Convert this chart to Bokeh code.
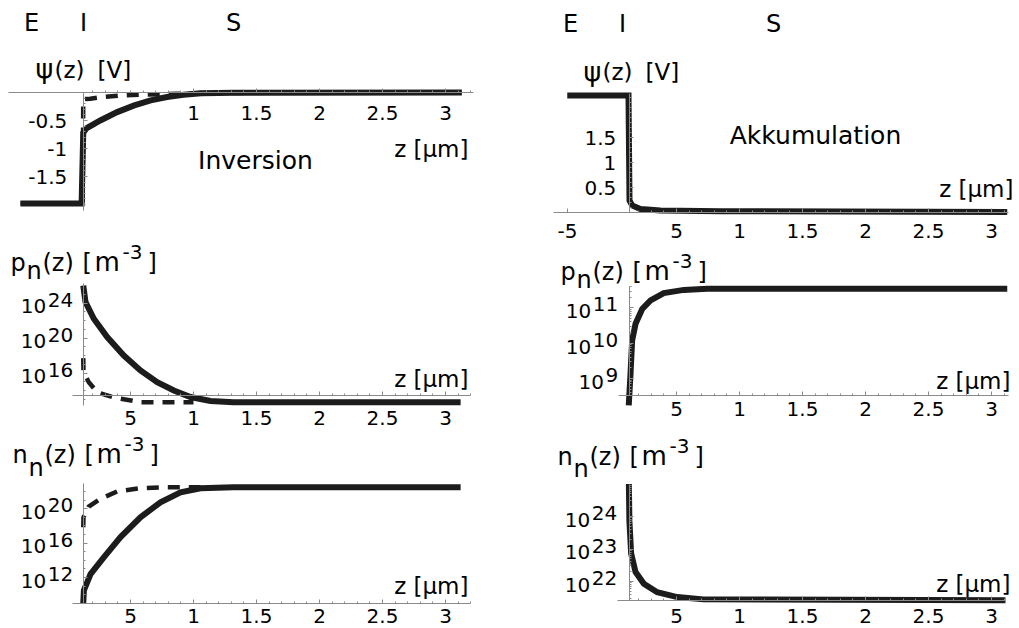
import numpy as np
from bokeh.plotting import figure
from bokeh.models import LinearAxis, FixedTicker, Range1d
from bokeh.layouts import row, column
from bokeh.core.properties import value
from bokeh.embed import file_html
from bokeh.resources import INLINE

FONT = "DejaVu Sans"
INK = "#1c1c1c"
AXC = "#8a8a8a"

# ---------------- data (z in the units of the printed z axis) ----------------
Z_I = 0.125  # interface insulator / semiconductor

# Inversion: potential psi(z) [V]
inv_psi_z = [-0.373, 0.112, 0.125, 0.15, 0.26, 0.394, 0.53, 0.66, 0.79, 0.92, 1.06, 1.32, 3.13]
inv_psi = [-1.98, -1.98, -0.72, -0.64, -0.50, -0.35, -0.23, -0.14, -0.08, -0.04, -0.015, -0.005, 0.0]
inv_psi_d_z = [-0.373, 0.12, 0.125, 0.18, 0.275, 0.41, 0.59, 0.86, 1.1, 3.13]
inv_psi_d = [-1.98, -1.98, -0.12, -0.11, -0.083, -0.054, -0.036, -0.024, -0.008, 0.0]

# Inversion: log10 of hole density p_n [m^-3]
inv_p_z = [0.125, 0.143, 0.209, 0.315, 0.447, 0.579, 0.712, 0.844, 0.976, 1.135, 1.317, 3.12]
inv_p = [26.0, 24.1, 22.2, 20.1, 18.0, 16.3, 14.95, 14.0, 13.25, 12.8, 12.66, 12.66]
inv_p_d_z = [0.125, 0.127, 0.169, 0.236, 0.367, 0.579, 1.0]
inv_p_d = [17.7, 16.1, 14.95, 13.8, 13.2, 12.66, 12.66]

# Inversion: log10 of electron density n_n [m^-3]
inv_n_z = [0.125, 0.13, 0.183, 0.288, 0.421, 0.579, 0.738, 0.897, 1.056, 1.317, 3.12]
inv_n = [9.0, 10.5, 12.4, 14.35, 16.7, 19.0, 20.75, 21.9, 22.38, 22.5, 22.5]
inv_n_d_z = [0.125, 0.127, 0.169, 0.262, 0.394, 0.579, 0.791, 1.056]
inv_n_d = [17.85, 19.0, 20.25, 21.15, 22.0, 22.38, 22.5, 22.5]

# Accumulation
acc_psi_z = [-0.367, 0.119, 0.127, 0.148, 0.214, 0.373, 0.849, 3.125]
acc_psi = [2.34, 2.34, 0.24, 0.14, 0.07, 0.04, 0.026, 0.01]
acc_p_z = [0.121, 0.135, 0.148, 0.175, 0.228, 0.294, 0.399, 0.558, 0.744, 3.125]
acc_p = [8.24, 9.13, 10.08, 10.55, 10.97, 11.21, 11.42, 11.51, 11.54, 11.54]
acc_n_z = [0.122, 0.126, 0.14, 0.175, 0.241, 0.347, 0.506, 0.714, 3.111]
acc_n = [25.0, 23.88, 22.86, 22.29, 21.93, 21.67, 21.52, 21.45, 21.42]

# tick labels
z_ticks = [0.5, 1, 1.5, 2, 2.5, 3]
z_tick_labels = ["5", "1", "1.5", "2", "2.5", "3"]
z_neg_tick, z_neg_label = -0.365, "-5"
psi_inv_ticks = [-1.5, -1, -0.5]
psi_inv_labels = ["-1.5", "-1", "-0.5"]
psi_acc_ticks = [0.5, 1, 1.5]
psi_acc_labels = ["0.5", "1", "1.5"]
inv_p_exps = [16, 20, 24]
inv_n_exps = [12, 16, 20]
acc_p_exps = [9, 10, 11]
acc_n_exps = [22, 23, 24]

# ---------------- layout (reference pixel geometry, page origin at 0,0) ----------------
COL_LEFT = [0, 513]
COL_W = [513, 506]
ROW_TOPS = [[0, 236, 430], [0, 244, 432]]
ROW_HS = [[236, 194, 198], [244, 188, 196]]
X_ORIGIN = [67, 613]
PX = 126.0


class Panel:
    def __init__(self, col, r, Y0, v0, s):
        self.left, self.w = COL_LEFT[col], COL_W[col]
        self.top, self.h = ROW_TOPS[col][r], ROW_HS[col][r]
        self.xo = X_ORIGIN[col]
        self.Y0, self.v0, self.s = Y0, v0, s
        self.x0 = (self.left - self.xo) / PX
        self.x1 = (self.left + self.w - self.xo) / PX
        self.y1 = v0 + (Y0 - self.top) / s
        self.y0 = v0 - (self.top + self.h - Y0) / s
        self.fig = figure(width=self.w, height=self.h,
                          x_range=Range1d(self.x0, self.x1),
                          y_range=Range1d(self.y0, self.y1),
                          x_axis_type=None, y_axis_type=None,
                          toolbar_location=None, output_backend="svg",
                          min_border=0, outline_line_color=None,
                          background_fill_color="white", border_fill_color="white")

    def dx(self, X):
        return (X - self.xo) / PX

    def dy(self, Y):
        return self.v0 + (self.Y0 - Y) / self.s

    def rY(self, v):
        return self.Y0 - (v - self.v0) * self.s

    def text(self, X, Y, txt, size, align="left", mid=False):
        # Y is the alphabetic baseline unless mid=True (then it is the visual middle)
        Ym = Y if mid else Y - 0.35 * size
        self.fig.text(x=[self.dx(X)], y=[self.dy(Ym)], text=[txt],
                      text_font=value(FONT), text_font_size=value(f"{size}px"),
                      text_align=align, text_baseline="middle", text_color="black")

    def line(self, xs, ys, dashed=False):
        if dashed:
            self.fig.line(xs, ys, line_width=4.5, line_color=INK, line_dash="12 9",
                          line_join="miter")
        else:
            self.fig.line(xs, ys, line_width=6, line_color=INK, line_join="miter")

    def xaxis(self, at, bounds, ticks, labels, standoff, minor):
        ax = LinearAxis(fixed_location=at, bounds=bounds,
                        ticker=FixedTicker(ticks=ticks, minor_ticks=minor),
                        major_label_overrides={float(t): l for t, l in zip(ticks, labels)},
                        axis_line_color=AXC, axis_line_width=1,
                        major_tick_line_color=AXC, major_tick_in=4, major_tick_out=0,
                        minor_tick_line_color=AXC, minor_tick_in=2, minor_tick_out=0,
                        major_label_standoff=standoff,
                        major_label_text_font=FONT, major_label_text_font_size="20px",
                        major_label_text_color="black")
        self.fig.add_layout(ax, "below")

    def yaxis(self, bounds, ticks, labels, standoff, minor):
        kw = {}
        if labels is None:
            kw["major_label_text_color"] = None
        else:
            kw["major_label_overrides"] = {float(t): l for t, l in zip(ticks, labels)}
            kw["major_label_text_color"] = "black"
        ax = LinearAxis(fixed_location=Z_I, bounds=bounds,
                        ticker=FixedTicker(ticks=ticks, minor_ticks=minor),
                        axis_line_color=AXC, axis_line_width=1,
                        major_tick_line_color=AXC, major_tick_in=4, major_tick_out=0,
                        minor_tick_line_color=AXC, minor_tick_in=2, minor_tick_out=0,
                        major_label_standoff=standoff,
                        major_label_text_font=FONT, major_label_text_font_size="20px",
                        **kw)
        self.fig.add_layout(ax, "left")

    def log_labels(self, exps, gap):
        axX = self.xo + Z_I * PX
        for e in exps:
            Yt = self.rY(e)
            es = str(e)
            w = len(es) * 0.636 * 20
            self.text(axX - gap, Yt - 3.5, es, 20, align="right", mid=True)
            self.text(axX - gap - w - 1.5, Yt + 3.3, "10", 20, align="right", mid=True)

    def density_label(self, letter, X0, B, sub):
        self.text(X0, B, letter, 24)
        self.text(X0 + 16, B + sub, "n", 24)
        self.text(X0 + 32, B, "(z)", 24)
        self.text(X0 + 72, B, "[", 24)
        self.text(X0 + 84, B, "m", 26)
        self.text(X0 + 112, B - 13, "-3", 20)
        self.text(X0 + 137, B, "]", 24)

    def psi_label(self, X0, B):
        self.text(X0, B, "ψ", 27)
        self.text(X0 + 19, B, "(z)", 23)
        self.text(X0 + 62, B, "[V]", 23)


x_minor_L = [round(v, 2) for v in np.arange(0.2, 3.21, 0.1)]
x_minor_R = [round(v, 2) for v in np.arange(0.2, 3.11, 0.1)]

# ---------------- Inversion column ----------------
L1 = Panel(0, 0, 92, 0.0, 56)
L1.line(inv_psi_d_z, inv_psi_d, dashed=True)
L1.line(inv_psi_z, inv_psi)
L1.xaxis(0.0, (L1.dx(8), 3.22), z_ticks[1:], z_tick_labels[1:], 13, x_minor_L)
L1.yaxis((-2.1, 0.0), psi_inv_ticks, psi_inv_labels, 16,
         [round(v, 2) for v in np.arange(-2.0, 0.01, 0.1)])
L1.text(31, 30.7, "E", 24, align="center")
L1.text(83, 30.7, "I", 24, align="center")
L1.text(233, 30.7, "S", 24, align="center")
L1.psi_label(35, 77.5)
L1.text(255, 168.3, "Inversion", 25, align="center")
L1.text(468, 156.7, "z [μm]", 23, align="right")

L2 = Panel(0, 1, 372.5, 16, 8.75)
L2.line(inv_p_d_z, inv_p_d, dashed=True)
L2.line(inv_p_z, inv_p)
L2.xaxis(L2.dy(395), (0.037, 3.2), z_ticks, z_tick_labels, 15, x_minor_L)
L2.yaxis((12.3, 26.2), inv_p_exps, None, 10, list(range(13, 27)))
L2.log_labels(inv_p_exps, 10)
L2.density_label("p", 10, 271, 8)
L2.text(468, 386.7, "z [μm]", 23, align="right")

L3 = Panel(0, 2, 577, 12, 8.6)
L3.line(inv_n_d_z, inv_n_d, dashed=True)
L3.line(inv_n_z, inv_n)
L3.xaxis(L3.dy(602.7), (0.037, 3.2), z_ticks, z_tick_labels, 6, x_minor_L)
L3.yaxis((L3.dy(602.7), 22.93), inv_n_exps, None, 10, list(range(10, 23)))
L3.log_labels(inv_n_exps, 10)
L3.density_label("n", 12, 463, 13)
L3.text(468, 593.3, "z [μm]", 23, align="right")

# ---------------- Accumulation column ----------------
R1 = Panel(1, 0, 212, 0.0, 50)
R1.line(acc_psi_z, acc_psi)
R1.xaxis(0.0, (-0.476, 3.135), [z_neg_tick] + z_ticks, [z_neg_label] + z_tick_labels, 11, x_minor_R)
R1.yaxis((0.0, 2.38), psi_acc_ticks, psi_acc_labels, 13,
         [round(v, 2) for v in np.arange(0.1, 2.31, 0.1)])
R1.text(570, 31.5, "E", 24, align="center")
R1.text(622, 31.5, "I", 24, align="center")
R1.text(773, 31.5, "S", 24, align="center")
R1.psi_label(583, 80)
R1.text(815, 143.3, "Akkumulation", 25, align="center")
R1.text(1013, 196.7, "z [μm]", 23, align="right")

log_minor = [float(np.log10(m)) for m in range(2, 10)]

R2 = Panel(1, 1, 378, 9, 35.3)
R2.line(acc_p_z, acc_p)
R2.xaxis(R2.dy(395), (0.04, 3.135), z_ticks, z_tick_labels, 6, x_minor_R)
R2.yaxis((R2.dy(395), 11.62), acc_p_exps, None, 10,
         [k + m for k in (8, 9, 10, 11) for m in log_minor if R2.dy(395) < k + m < 11.62])
R2.log_labels(acc_p_exps, 11)
R2.density_label("p", 560, 280, 8)
R2.text(1010, 388.3, "z [μm]", 23, align="right")

R3 = Panel(1, 2, 581, 22, 32.5)
R3.line(acc_n_z, acc_n)
R3.xaxis(R3.dy(600), (0.03, 3.11), z_ticks, z_tick_labels, 8, x_minor_R)
R3.yaxis((R3.dy(600), 25.0), acc_n_exps, None, 10,
         [k + m for k in (21, 22, 23, 24) for m in log_minor if R3.dy(600) < k + m < 25.0])
R3.log_labels(acc_n_exps, 12)
R3.density_label("n", 557, 465, 12)
R3.text(1010, 591.7, "z [μm]", 23, align="right")

layout = row(column(L1.fig, L2.fig, L3.fig), column(R1.fig, R2.fig, R3.fig))

open("out.html", "w").write(file_html(layout, INLINE))
